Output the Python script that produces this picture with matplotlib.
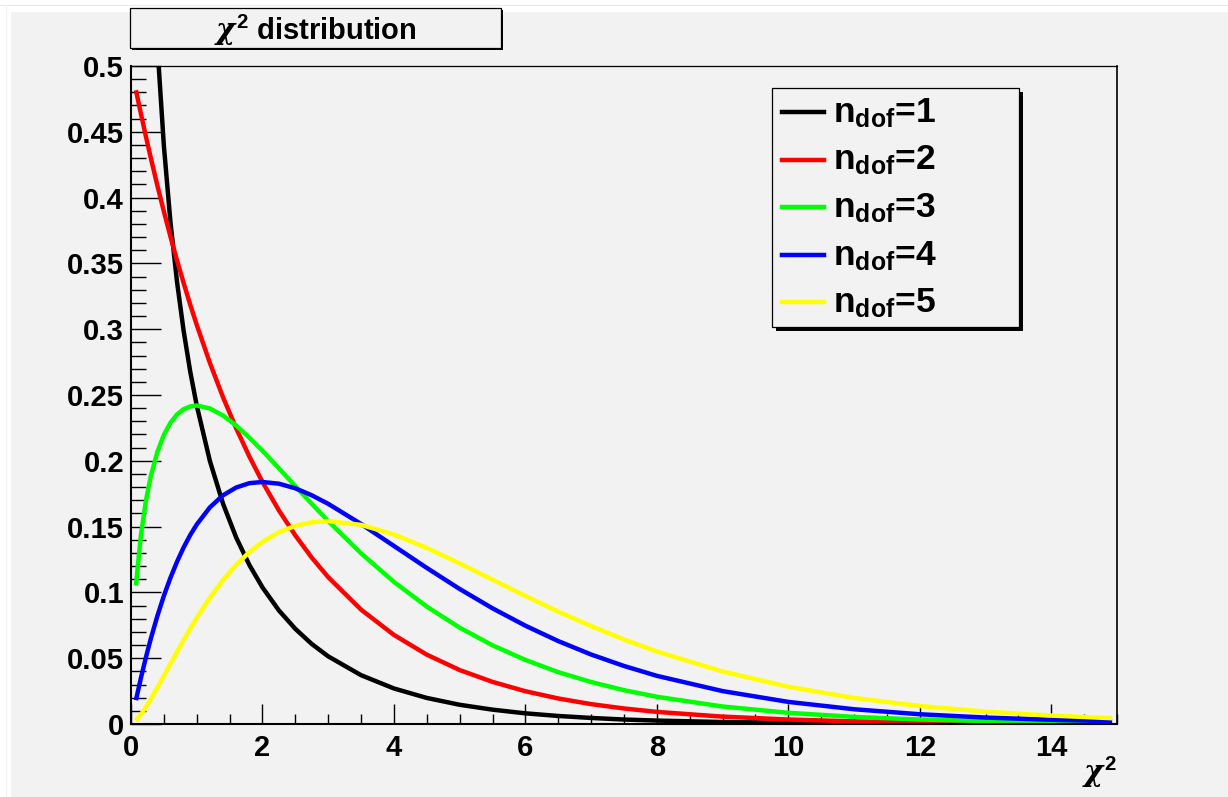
import matplotlib
matplotlib.use('Agg')
import matplotlib.pyplot as plt
from matplotlib.patches import Rectangle
from matplotlib.lines import Line2D
from matplotlib.ticker import MultipleLocator

plt.rcParams['font.family'] = ['Liberation Sans', 'DejaVu Sans']
plt.rcParams['font.weight'] = 'bold'
plt.rcParams['mathtext.fontset'] = 'custom'
plt.rcParams['mathtext.rm'] = 'Liberation Sans:bold'
plt.rcParams['mathtext.bf'] = 'Liberation Sans:bold'
plt.rcParams['mathtext.sf'] = 'Liberation Sans:bold'
plt.rcParams['mathtext.it'] = 'DejaVu Serif:italic'

# ---------------- data ----------------
chi2 = [0.075, 0.15, 0.225, 0.3, 0.4, 0.5, 0.6, 0.7, 0.8, 0.9, 1.0, 1.2, 1.4, 1.6, 1.8,
        2.0, 2.25, 2.5, 2.75, 3.0, 3.5, 4.0, 4.5, 5.0, 5.5, 6.0, 6.5, 7.0, 7.5, 8.0,
        9.0, 10.0, 11.0, 12.0, 13.0, 14.0, 14.925]

pdf_ndof1 = [1.4031, 0.9556, 0.7516, 0.6269, 0.5164, 0.4394, 0.3815, 0.3360, 0.2990, 0.2681,
             0.2420, 0.1999, 0.1674, 0.1417, 0.1209, 0.1038, 0.0863, 0.0723, 0.0608, 0.0514,
             0.0371, 0.0270, 0.0198, 0.0146, 0.0109, 0.0081, 0.0061, 0.0046, 0.0034, 0.0026,
             0.0015, 0.0009, 0.0005, 0.0003, 0.0002, 0.0001, 0.0001]
pdf_ndof2 = [0.4816, 0.4639, 0.4468, 0.4304, 0.4094, 0.3894, 0.3704, 0.3523, 0.3352, 0.3188,
             0.3033, 0.2744, 0.2483, 0.2247, 0.2033, 0.1839, 0.1623, 0.1433, 0.1264, 0.1116,
             0.0869, 0.0677, 0.0527, 0.0410, 0.0320, 0.0249, 0.0194, 0.0151, 0.0118, 0.0092,
             0.0056, 0.0034, 0.0020, 0.0012, 0.0008, 0.0005, 0.0003]
pdf_ndof3 = [0.1052, 0.1434, 0.1691, 0.1881, 0.2066, 0.2197, 0.2289, 0.2352, 0.2392, 0.2413,
             0.2420, 0.2398, 0.2344, 0.2268, 0.2176, 0.2076, 0.1943, 0.1807, 0.1673, 0.1542,
             0.1297, 0.1080, 0.0892, 0.0732, 0.0598, 0.0487, 0.0394, 0.0319, 0.0257, 0.0207,
             0.0133, 0.0085, 0.0054, 0.0034, 0.0022, 0.0014, 0.0009]
pdf_ndof4 = [0.0181, 0.0348, 0.0503, 0.0646, 0.0819, 0.0974, 0.1111, 0.1233, 0.1341, 0.1435,
             0.1516, 0.1646, 0.1738, 0.1797, 0.1830, 0.1839, 0.1826, 0.1791, 0.1738, 0.1673,
             0.1520, 0.1353, 0.1186, 0.1026, 0.0879, 0.0747, 0.0630, 0.0528, 0.0441, 0.0366,
             0.0250, 0.0168, 0.0112, 0.0074, 0.0049, 0.0032, 0.0021]
pdf_ndof5 = [0.0026, 0.0072, 0.0127, 0.0188, 0.0275, 0.0366, 0.0458, 0.0549, 0.0638, 0.0724,
             0.0807, 0.0959, 0.1094, 0.1209, 0.1306, 0.1384, 0.1457, 0.1506, 0.1533, 0.1542,
             0.1513, 0.1440, 0.1338, 0.1220, 0.1097, 0.0973, 0.0854, 0.0744, 0.0642, 0.0551,
             0.0399, 0.0283, 0.0198, 0.0137, 0.0094, 0.0064, 0.0044]

ndof_labels = ['1', '2', '3', '4', '5']
series = [pdf_ndof1, pdf_ndof2, pdf_ndof3, pdf_ndof4, pdf_ndof5]

x_ticks = [0, 2, 4, 6, 8, 10, 12, 14]
x_tick_labels = ['0', '2', '4', '6', '8', '10', '12', '14']
y_ticks = [0, 0.05, 0.1, 0.15, 0.2, 0.25, 0.3, 0.35, 0.4, 0.45, 0.5]
y_tick_labels = ['0', '0.05', '0.1', '0.15', '0.2', '0.25', '0.3', '0.35', '0.4', '0.45', '0.5']

# ---------------- styling ----------------
colors = ['#000000', '#ff0000', '#00ff00', '#0000ff', '#ffff00']
BG = '#f2f2f2'
LW = 3.2
W, H = 1228, 797


def fx(px):
    return px / W


def fy(py):
    return 1 - py / H


fig = plt.figure(figsize=(W / 100, H / 100), dpi=100)
fig.patch.set_facecolor('white')

# canvas gray area
fig.patches.append(Rectangle((fx(11), 0), 1 - fx(11), fy(12), transform=fig.transFigure,
                             facecolor=BG, edgecolor='none', zorder=-2))
fig.lines.append(Line2D([0, 1], [fy(5), fy(5)], transform=fig.transFigure,
                        color='#e8e8e8', lw=0.8, zorder=-2))
fig.lines.append(Line2D([fx(6), fx(6)], [0, fy(5)], transform=fig.transFigure,
                        color='#f4f4f4', lw=0.8, zorder=-2))

ax = fig.add_axes([fx(131), fy(724), (1117 - 131) / W, (724 - 66) / H])
ax.set_facecolor(BG)

for ys, c, lab in zip(series, colors, ndof_labels):
    ax.plot(chi2, ys, color=c, lw=LW, solid_joinstyle='round', solid_capstyle='butt',
            label=lab)

ax.set_xlim(0, 15)
ax.set_ylim(0, 0.5)

ax.set_xticks(x_ticks)
ax.set_xticklabels(x_tick_labels)
ax.set_yticks(y_ticks)
ax.set_yticklabels(y_tick_labels)
ax.xaxis.set_minor_locator(MultipleLocator(0.5))
ax.yaxis.set_minor_locator(MultipleLocator(0.01))

ax.tick_params(axis='x', which='major', direction='in', length=14.4, width=1.0,
               labelsize=21, pad=7, top=False, color='black')
ax.tick_params(axis='x', which='minor', direction='in', length=7.2, width=1.0, top=False)
ax.tick_params(axis='y', which='major', direction='in', length=21.6, width=1.0,
               labelsize=21, pad=5, right=False)
ax.tick_params(axis='y', which='minor', direction='in', length=10.8, width=1.0, right=False)
for lbl in ax.get_xticklabels() + ax.get_yticklabels():
    lbl.set_fontweight('bold')

ax.spines['left'].set_linewidth(1.5)
ax.spines['bottom'].set_linewidth(1.5)
ax.spines['top'].set_linewidth(0.9)
ax.spines['right'].set_linewidth(1.2)

# x axis title
fig.text(fx(1117), fy(782), r'$\chi^{2}$', ha='right', va='baseline', fontsize=21)

# title box with shadow
tl, tt, tr, tb = 130, 8, 501, 48
fig.patches.append(Rectangle((fx(tl + 2), fy(tb + 2)), (tr - tl) / W, (tb - tt) / H,
                             transform=fig.transFigure, facecolor='black',
                             edgecolor='none', zorder=3))
fig.patches.append(Rectangle((fx(tl), fy(tb)), (tr - tl) / W, (tb - tt) / H,
                             transform=fig.transFigure, facecolor=BG,
                             edgecolor='black', lw=0.9, zorder=4))
fig.text(fx(315), fy(40), r'$\chi^{2}$ distribution', ha='center', va='baseline',
         fontsize=21, fontweight='bold', zorder=5)

# legend box with shadow
ll, lt, lr, lb = 772, 88, 1019, 327
fig.patches.append(Rectangle((fx(ll + 4), fy(lb + 4)), (lr - ll) / W, (lb - lt) / H,
                             transform=fig.transFigure, facecolor='black',
                             edgecolor='none', zorder=3))
fig.patches.append(Rectangle((fx(ll), fy(lb)), (lr - ll) / W, (lb - lt) / H,
                             transform=fig.transFigure, facecolor=BG,
                             edgecolor='black', lw=0.9, zorder=4))
for i, line in enumerate(ax.get_lines()):
    yl = 112 + 47.6 * i
    fig.lines.append(Line2D([fx(782), fx(824)], [fy(yl), fy(yl)], transform=fig.transFigure,
                            color=line.get_color(), lw=LW, zorder=5))
    fig.text(fx(833), fy(122 + 47.6 * i), r'n$_{\mathrm{dof}}$=' + line.get_label(),
             ha='left', va='baseline', fontsize=25.5, fontweight='bold', zorder=5)

fig.savefig('out.png', dpi=100, facecolor=fig.get_facecolor())
